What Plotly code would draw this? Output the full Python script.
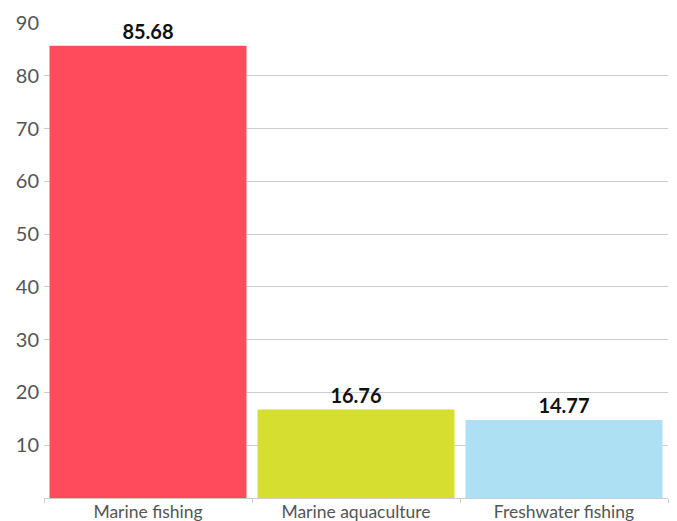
import plotly.graph_objects as go

categories = ["Marine fishing", "Marine aquaculture", "Freshwater fishing"]
values = [85.68, 16.76, 14.77]
colors = ["#FF4B5B", "#D6DF30", "#ADE0F2"]
y_ticks = [10, 20, 30, 40, 50, 60, 70, 80, 90]

fig = go.Figure(go.Bar(
    x=categories, y=values,
    marker=dict(color=colors, line=dict(width=0)),
    text=[f"{v:.2f}" for v in values],
    textposition="outside",
    textfont=dict(family="Lato, Open Sans, sans-serif", size=20, color="#111"),
    texttemplate="<b>%{text}</b>",
    cliponaxis=False,
))

fig.update_layout(
    width=677, height=521,
    margin=dict(l=44, r=9, t=23, b=23, autoexpand=False),
    paper_bgcolor="white", plot_bgcolor="white",
    bargap=0.053,
    showlegend=False,
    font=dict(family="Lato, Open Sans, sans-serif", color="#555"),
)
fig.update_yaxes(
    range=[0, 90], tickvals=y_ticks, showgrid=True, gridcolor="#CCCCCC", gridwidth=1,
    zeroline=False, showline=False, ticks="", tickfont=dict(size=20, color="#555"),
    ticklabelstandoff=4, automargin=False,
)
fig.update_xaxes(
    showline=True, linecolor="#CCCCCC", linewidth=1, ticks="outside", tickson="boundaries",
    ticklen=4, tickcolor="#CCCCCC", tickfont=dict(size=17.5, color="#555"),
    ticklabelstandoff=-2, automargin=False,
)

fig.write_html(
    "out.html",
    config={"displayModeBar": False},
    post_script="document.body.style.margin='0';document.body.style.overflow='hidden';",
)
